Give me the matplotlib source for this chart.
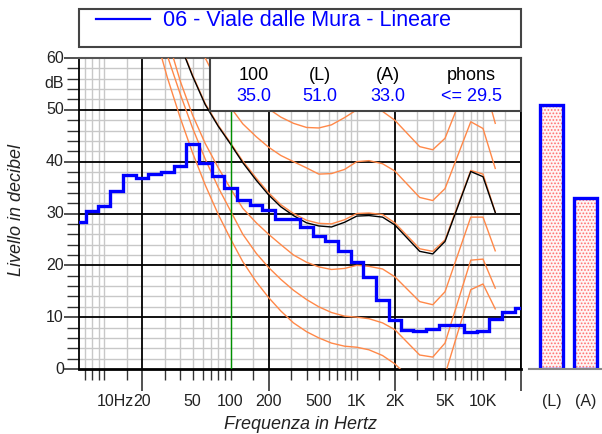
import numpy as np
import matplotlib.pyplot as plt
from matplotlib.patches import Rectangle
from matplotlib.lines import Line2D
from matplotlib.ticker import NullFormatter

plt.rcParams['font.family'] = ['Liberation Sans', 'DejaVu Sans']
plt.rcParams['hatch.linewidth'] = 0.8

# measured spectrum, third-octave bands
bands = [6.3, 8, 10, 12.5, 16, 20, 25, 31.5, 40, 50, 63, 80, 100, 125, 160, 200,
         250, 315, 400, 500, 630, 800, 1000, 1250, 1600, 2000, 2500, 3150, 4000,
         5000, 6300, 8000, 10000, 12500, 16000, 20000]
levels = [28.4, 30.5, 31.5, 34.3, 37.4, 36.9, 37.7, 38.1, 39.1, 43.5, 39.8, 37.3, 35.0, 32.7, 31.6, 30.7,
          29.0, 29.0, 27.3, 25.7, 24.7, 22.8, 20.6, 17.8, 13.4, 9.4, 7.5, 7.4, 7.7,
          8.4, 8.4, 7.2, 7.4, 9.7, 11.0, 11.7]

# equal loudness contours
cf = [20, 25, 31.5, 40, 50, 63, 80, 100, 125, 160, 200, 250, 315, 400, 500, 630, 800,
      1000, 1250, 1600, 2000, 3150, 4000, 5000, 8000, 10000, 12500]
c_thr = [74.3, 65.0, 56.3, 48.4, 41.7, 35.5, 29.8, 25.1, 20.7, 16.8, 13.8, 11.2, 8.9, 7.2, 6.0, 5.0, 4.4,
         4.2, 3.7, 2.6, 1.0, -3.6, -3.9, -1.1, 15.3, 16.4, 11.6]
c_10 = [78.0, 69.5, 60.5, 53.0, 46.5, 40.5, 35.0, 30.5, 26.0, 22.3, 19.6, 17.3, 15.2, 13.4, 12.0, 10.9, 10.2,
        10.0, 9.7, 8.9, 7.6, 2.7, 2.3, 5.0, 21.0, 21.2, 15.6]
c_20 = [81.0, 72.5, 64.0, 55.5, 49.0, 43.5, 38.8, 34.8, 31.0, 28.2, 26.0, 24.0, 22.0, 20.6, 19.7, 19.2, 19.4,
        20.0, 19.8, 19.3, 17.8, 13.0, 12.4, 14.9, 29.3, 29.3, 22.8]
c_30 = [85.2, 77.2, 69.7, 62.7, 56.7, 51.2, 47.0, 43.6, 40.1, 36.8, 34.0, 31.7, 30.0, 28.7, 28.1, 28.0, 28.8,
        30.0, 30.1, 29.8, 28.2, 23.2, 22.7, 24.9, 38.3, 37.6, 30.3]
c_40 = [90.0, 83.0, 76.0, 70.0, 64.5, 60.0, 55.0, 50.5, 47.3, 44.8, 42.8, 41.2, 40.0, 38.8, 37.6, 37.7, 38.5,
        40.0, 40.2, 39.6, 38.2, 33.1, 32.5, 34.8, 47.7, 46.4, 38.7]
c_50 = [95.0, 89.0, 83.0, 77.5, 72.5, 68.0, 63.5, 60.0, 56.5, 53.0, 50.2, 48.6, 47.4, 46.6, 46.5, 47.1, 48.5,
        50.0, 50.3, 49.7, 48.0, 42.9, 42.3, 44.5, 57.0, 56.0, 47.4]
c_sel = [85.0, 77.0, 69.5, 62.5, 56.5, 51.0, 46.8, 43.4, 39.8, 36.4, 33.6, 31.3, 29.6, 28.2, 27.6, 27.4, 28.3,
         29.5, 29.6, 29.3, 27.8, 22.7, 22.2, 24.6, 38.1, 37.1, 30.2]

head_labels = ['100', '(L)', '(A)', 'phons']
head_values = ['35.0', '51.0', '33.0', '<= 29.5']
bar_labels = ['(L)', '(A)']
bar_values = [51.0, 33.0]

x_labels = ['10Hz', '20', '50', '100', '200', '500', '1K', '2K', '5K', '10K']
x_label_pos = [12.3, 20, 50, 100, 200, 500, 1000, 2000, 5000, 10000]

orange = '#ff8848'
grey = '#c8c8c8'

fig = plt.figure(figsize=(6.02, 4.34), dpi=100)
ax = fig.add_axes([79/602, 65/434, 442/602, 311/434])
ax.set_xscale('log')
ax.set_xlim(6.3, 20000)
ax.set_ylim(0, 60)

major_f = [20, 200, 2000, 20000]
minor_f = [7, 8, 9, 10, 15] + [m * d for d in (10, 100, 1000) for m in (3, 4, 5, 6, 7, 8, 9, 10, 15)]

for f in minor_f:
    ax.axvline(f, color=grey, lw=1.0, zorder=1)
for v in range(2, 60, 2):
    if v % 10:
        ax.axhline(v, color=grey, lw=1.0, zorder=1)
for f in major_f:
    ax.axvline(f, color='black', lw=1.3, zorder=2)
for v in range(10, 60, 10):
    ax.axhline(v, color='black', lw=1.3, zorder=2)

ax.set_xticks(major_f)
ax.set_xticks(minor_f, minor=True)
ax.xaxis.set_major_formatter(NullFormatter())
ax.xaxis.set_minor_formatter(NullFormatter())
ax.set_yticks(range(0, 61, 10))
ax.set_yticks(range(0, 61, 2), minor=True)
ax.set_yticklabels([])
ax.tick_params(axis='x', which='major', length=16, width=1.2, direction='out', colors='#333333')
ax.tick_params(axis='x', which='minor', length=8, width=1.0, direction='out', colors='#333333')
ax.tick_params(axis='y', which='major', length=10.5, width=1.2, direction='out', colors='#333333')
ax.tick_params(axis='y', which='minor', length=9, width=1.0, direction='out', colors='#333333')

for s in ['left', 'right']:
    ax.spines[s].set_color('black')
    ax.spines[s].set_linewidth(1.3)
ax.spines['bottom'].set_linewidth(2)
ax.spines['top'].set_color('#555555')
ax.spines['top'].set_linewidth(1.5)

# contours
for c in [c_thr, c_10, c_20, c_30, c_40, c_50]:
    ax.plot(cf, c, color=orange, lw=1.0, zorder=3)
ax.plot(cf, c_sel, color='black', lw=1.0, zorder=3.5)

ax.axvline(100, color='#009000', lw=1.0, zorder=4)

b = np.array(bands)
edges = np.concatenate([[b[0] / 1.12], np.sqrt(b[:-1] * b[1:]), [b[-1] * 1.12]])
ax.stairs(levels, edges, color='#0000ff', lw=2.4, baseline=None, zorder=5)

# result box
ax.add_patch(Rectangle((0.2964, 0.8296), 0.7036, 0.1704, transform=ax.transAxes,
                       facecolor='white', edgecolor='#444444', lw=1.5, zorder=10, clip_on=False))
for xp, h, v in zip([0.3948, 0.5452, 0.6991, 0.888], head_labels, head_values):
    ax.text(xp, 0.9453, h, transform=ax.transAxes, ha='center', va='center',
            fontsize=13, color='black', zorder=11)
    ax.text(xp, 0.8756, v, transform=ax.transAxes, ha='center', va='center',
            fontsize=13, color='#0000ff', zorder=11)

# tick labels
for xp, t in zip(x_label_pos, x_labels):
    ax.text(xp, -0.105, t, transform=ax.get_xaxis_transform(), ha='center', va='center',
            fontsize=11.5, color='#222222')
for v in range(0, 61, 10):
    ax.text(-0.034, v, str(v), transform=ax.get_yaxis_transform(), ha='right', va='center',
            fontsize=11.5, color='#222222')
ax.text(-0.034, 55, 'dB', transform=ax.get_yaxis_transform(), ha='right', va='center',
        fontsize=11.5, color='#222222')

fig.text(0.028, 0.516, 'Livello in decibel', rotation=90, ha='center', va='center',
         fontsize=13, style='italic', color='#222222')
fig.text(0.5, 0.023, 'Frequenza in Hertz', ha='center', va='center',
         fontsize=13, style='italic', color='#222222')

# legend box
fig.add_artist(Rectangle((79/602, (434-47)/434), 442/602, 38/434, transform=fig.transFigure,
                         fill=False, edgecolor='#444444', lw=1.5))
fig.add_artist(Line2D([96/602, 150/602], [(434-19)/434] * 2, transform=fig.transFigure,
                      color='#0000ff', lw=1.6))
fig.text(163/602, (434-20)/434, '06 - Viale dalle Mura - Lineare', ha='left', va='center',
         fontsize=15.5, color='#0000ff')

# bars panel
ax2 = fig.add_axes([529/602, 65/434, 73/602, 311/434])
ax2.set_xlim(0, 73)
ax2.set_ylim(0, 60)
for s in ['left', 'right', 'top']:
    ax2.spines[s].set_visible(False)
ax2.spines['bottom'].set_color('#888888')
ax2.spines['bottom'].set_linewidth(1.5)
ax2.set_xticks([])
ax2.set_yticks([])
ax2.patch.set_alpha(0)
bx = [22.5, 56.5]
ax2.bar(bx, bar_values, width=23, color='#fff4f4', edgecolor='#ff7070', hatch='.....', lw=0)
ax2.bar(bx, bar_values, width=23, fill=False, edgecolor='#0000ff', lw=2.4)
for xp, t in zip(bx, bar_labels):
    ax2.text(xp, -0.105, t, transform=ax2.get_xaxis_transform(), ha='center', va='center',
             fontsize=11.5, color='#222222')

fig.savefig('out.png', dpi=100)
